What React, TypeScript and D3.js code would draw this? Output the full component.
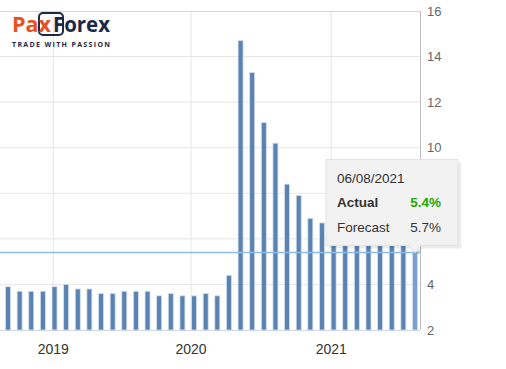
import React from 'react'
import * as d3 from 'd3'

// release dates (dd/mm/yyyy) and US unemployment rate, %
const releaseDates = [
  '07/09/2018', '05/10/2018', '02/11/2018', '07/12/2018',
  '04/01/2019', '01/02/2019', '08/03/2019', '05/04/2019', '03/05/2019', '07/06/2019',
  '05/07/2019', '02/08/2019', '06/09/2019', '04/10/2019', '01/11/2019', '06/12/2019',
  '10/01/2020', '07/02/2020', '06/03/2020', '03/04/2020', '08/05/2020', '05/06/2020',
  '02/07/2020', '07/08/2020', '04/09/2020', '02/10/2020', '06/11/2020', '04/12/2020',
  '08/01/2021', '05/02/2021', '05/03/2021', '02/04/2021', '07/05/2021', '04/06/2021',
  '02/07/2021', '06/08/2021',
]
const actualValues = [
  3.9, 3.7, 3.7, 3.7,
  3.9, 4.0, 3.8, 3.8, 3.6, 3.6,
  3.7, 3.7, 3.7, 3.5, 3.6, 3.5,
  3.5, 3.6, 3.5, 4.4, 14.7, 13.3,
  11.1, 10.2, 8.4, 7.9, 6.9, 6.7,
  6.7, 6.3, 6.2, 6.0, 6.1, 5.8,
  5.9, 5.4,
]
const lastForecast = 5.7
const yearTicks = ['2019', '2020', '2021']
const yTicks = [2, 4, 6, 8, 10, 12, 14, 16]

const W = 506
const H = 369
const plotRight = 420
const plotTop = 11
const plotBottom = 330

const parseDate = d3.timeParse('%d/%m/%Y')

export default function App() {
  const dates = releaseDates.map(d => parseDate(d) as Date)
  const n = dates.length

  // ordinal axis: points evenly spaced by index
  const x = d3.scaleLinear().domain([0, n - 1]).range([8, 415])
  const y = d3.scaleLinear().domain([2, 16]).range([plotBottom, plotTop])

  // tick dates placed between neighbouring points
  const dateToIndex = (dt: Date) => {
    const i = d3.bisector((d: Date) => d.getTime()).right(dates, dt.getTime())
    const a = dates[i - 1], b = dates[i]
    return i - 1 + (dt.getTime() - a.getTime()) / (b.getTime() - a.getTime())
  }
  const yearPos = yearTicks.map(t => ({ label: t, x: x(dateToIndex(new Date(+t, 0, 1))) }))

  const barW = 6
  const last = n - 1
  const lastValue = actualValues[last]
  const tipX = x(last)
  const tipY = y(lastValue)
  const boxR = tipX + 43
  const boxB = tipY - 7
  const boxL = boxR - 132
  const boxT = boxB - 86

  // axis labels hidden behind the tooltip are not drawn
  const visibleYTicks = yTicks.filter(t => y(t) < boxT - 6 || y(t) > boxB + 10)

  const font = '"Liberation Sans", Arial, sans-serif'

  return (
    <svg width={W} height={H} style={{ position: 'absolute', left: 0, top: 0, background: '#fff' }}
      fontFamily={font}>
      {/* grid */}
      {yTicks.slice(1, -1).map(t => (
        <line key={'g' + t} x1={0} x2={plotRight} y1={y(t)} y2={y(t)} stroke="#e6e6e6" />
      ))}
      {yearPos.map(t => (
        <line key={'v' + t.label} x1={t.x} x2={t.x} y1={plotTop} y2={plotBottom} stroke="#e6e6e6" />
      ))}
      <line x1={0} x2={plotRight} y1={plotTop + 0.5} y2={plotTop + 0.5} stroke="#d6d6d6" />

      {/* bars */}
      {actualValues.map((v, i) => (
        <rect key={i} x={x(i) - barW / 2 + 0.5} y={y(v)} width={barW - 1} height={plotBottom - y(v)}
          fill={i === last ? '#7aa0cd' : '#5b83b1'} stroke="#d4dfed" strokeWidth={0.8} />
      ))}

      {/* current value line */}
      <line x1={0} x2={plotRight} y1={y(lastValue)} y2={y(lastValue)} stroke="#8cbbea" strokeWidth={1.5} />

      {/* axes */}
      <line x1={0} x2={plotRight} y1={plotBottom + 0.5} y2={plotBottom + 0.5} stroke="#ccd6eb" />
      <line x1={plotRight + 0.5} x2={plotRight + 0.5} y1={plotTop} y2={plotBottom} stroke="#bdbdbd" />
      {visibleYTicks.map(t => (
        <text key={'y' + t} x={427} y={y(t)} dy="0.35em" fontSize={13} fill="#666">{t}</text>
      ))}
      {yearPos.map(t => (
        <text key={'x' + t.label} x={t.x} y={354} textAnchor="middle" fontSize={14} fill="#333">{t.label}</text>
      ))}

      {/* logo */}
      <g fontFamily='"Open Sans", sans-serif' fontWeight="bold">
        <rect x={39} y={13} width={24} height={22} rx={4} fill="none" stroke="#1d2747" strokeWidth={2} />
        <text x={12} y={32} fontSize={21} fill="#e8501f" textLength={39} lengthAdjust="spacingAndGlyphs">Pax</text>
        <text x={53} y={32} fontSize={21} fill="#1d2747" textLength={57} lengthAdjust="spacingAndGlyphs">Forex</text>
        <text x={12} y={47} fontSize={7} fill="#1d2747" textLength={98} lengthAdjust="spacing">TRADE WITH PASSION</text>
      </g>

      {/* tooltip */}
      <g>
        <path d={`M${boxL + 3},${boxT + 3}H${boxR + 3}V${boxB + 3}H${tipX + 8}L${tipX + 3},${tipY + 2}L${tipX - 5},${boxB + 3}H${boxL + 3}Z`}
          fill="rgba(0,0,0,0.08)" />
        <path d={`M${boxL},${boxT}H${boxR}V${boxB}H${tipX + 6}L${tipX},${tipY}L${tipX - 6},${boxB}H${boxL}Z`}
          fill="#f2f2f2" stroke="#e2e2e2" />
        <text x={boxL + 11} y={boxT + 23} fontSize={13.5} fill="#333">{releaseDates[last]}</text>
        <text x={boxL + 11} y={boxT + 47} fontSize={13.5} fill="#333" fontWeight="bold">Actual</text>
        <text x={boxR - 17} y={boxT + 47} fontSize={13.5} fill="#22a800" fontWeight="bold" textAnchor="end">{lastValue}%</text>
        <text x={boxL + 11} y={boxT + 72} fontSize={13.5} fill="#333">Forecast</text>
        <text x={boxR - 17} y={boxT + 72} fontSize={13.5} fill="#333" textAnchor="end">{lastForecast}%</text>
      </g>
    </svg>
  )
}
